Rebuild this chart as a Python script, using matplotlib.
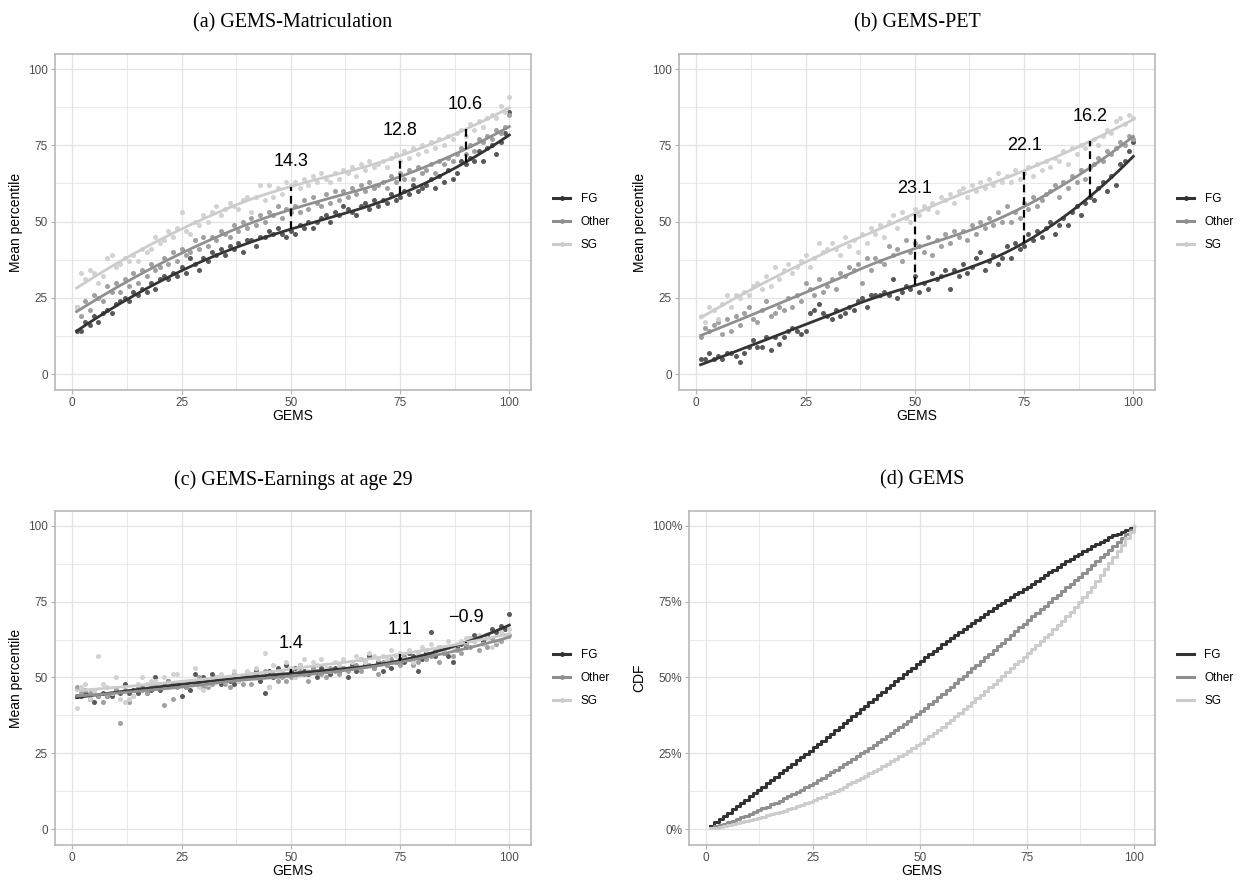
import matplotlib
matplotlib.use("Agg")
import matplotlib.pyplot as plt
from matplotlib.lines import Line2D
from matplotlib.ticker import MultipleLocator, PercentFormatter
import numpy as np

groups = ["FG", "Other", "SG"]
gems = np.arange(1, 101)

# (a) GEMS-Matriculation, mean percentile per GEMS percentile
fg_a = [14, 14, 17, 16, 19, 17, 20, 21, 20, 23,
        24, 25, 24, 27, 26, 28, 27, 30, 28, 31,
        32, 31, 33, 32, 35, 33, 38, 36, 34, 38,
        37, 40, 39, 41, 39, 42, 41, 43, 40, 44,
        44, 42, 45, 45, 47, 46, 48, 46, 45, 47,
        46, 49, 48, 50, 48, 50, 51, 52, 50, 53,
        52, 55, 54, 53, 52, 55, 56, 54, 57, 55,
        57, 56, 59, 57, 58, 60, 59, 62, 60, 61,
        62, 64, 61, 65, 63, 67, 64, 66, 70, 69,
        71, 70, 73, 70, 74, 75, 72, 76, 79, 86]
other_a = [22, 19, 24, 21, 26, 25, 24, 29, 27, 30,
           27, 31, 29, 33, 30, 34, 32, 36, 34, 35,
           38, 36, 40, 37, 41, 39, 40, 44, 41, 45,
           42, 45, 44, 47, 46, 45, 49, 47, 50, 48,
           51, 49, 52, 50, 53, 52, 55, 51, 54, 53,
           55, 53, 57, 54, 58, 56, 55, 59, 56, 60,
           57, 60, 58, 61, 59, 62, 60, 63, 61, 62,
           63, 61, 65, 63, 66, 64, 67, 64, 68, 66,
           67, 69, 66, 70, 69, 71, 70, 72, 74, 72,
           75, 73, 77, 76, 78, 77, 80, 79, 81, 85]
sg_a = [22, 33, 31, 34, 33, 30, 32, 38, 39, 35,
        36, 38, 37, 39, 37, 41, 40, 41, 45, 43,
        44, 47, 45, 48, 53, 47, 46, 50, 49, 52,
        50, 53, 55, 52, 54, 56, 55, 54, 57, 58,
        53, 58, 62, 57, 62, 58, 61, 59, 63, 62,
        63, 61, 64, 62, 65, 63, 66, 64, 63, 66,
        64, 67, 66, 68, 65, 69, 67, 70, 68, 69,
        70, 68, 71, 72, 70, 73, 71, 74, 72, 75,
        73, 76, 74, 77, 75, 78, 77, 79, 80, 78,
        82, 80, 83, 81, 84, 85, 84, 88, 86, 91]

# (b) GEMS-PET
fg_b = [5, 5, 7, 5, 6, 5, 7, 7, 6, 4,
        7, 9, 11, 9, 9, 12, 8, 12, 10, 12,
        14, 15, 14, 13, 14, 20, 21, 23, 20, 19,
        18, 21, 19, 20, 22, 21, 24, 25, 22, 26,
        26, 26, 27, 26, 31, 25, 27, 29, 28, 32,
        27, 30, 28, 33, 31, 32, 34, 28, 34, 32,
        36, 33, 35, 38, 40, 34, 37, 39, 36, 38,
        42, 38, 43, 41, 42, 46, 44, 47, 45, 48,
        50, 46, 49, 51, 49, 53, 55, 52, 56, 58,
        57, 61, 63, 60, 65, 62, 69, 70, 73, 76]
other_b = [12, 15, 14, 16, 17, 13, 18, 14, 19, 16,
           20, 22, 18, 17, 21, 24, 19, 20, 22, 21,
           25, 22, 26, 24, 30, 28, 26, 31, 27, 29,
           31, 28, 33, 32, 35, 34, 36, 30, 38, 34,
           38, 37, 36, 42, 39, 41, 37, 44, 40, 43,
           42, 40, 45, 39, 44, 42, 46, 43, 47, 45,
           47, 44, 49, 46, 50, 48, 51, 49, 53, 50,
           55, 50, 53, 51, 56, 54, 58, 55, 57, 59,
           60, 62, 58, 63, 61, 65, 63, 67, 64, 68,
           69, 71, 70, 73, 72, 74, 76, 75, 78, 77]
sg_b = [19, 17, 22, 21, 18, 23, 26, 22, 26, 25,
        27, 26, 29, 30, 28, 32, 29, 35, 31, 34,
        36, 33, 35, 37, 39, 35, 38, 43, 40, 41,
        43, 41, 39, 45, 42, 44, 40, 46, 43, 48,
        46, 49, 45, 50, 52, 48, 53, 51, 50, 54,
        52, 55, 54, 56, 53, 58, 57, 59, 56, 60,
        61, 58, 62, 60, 63, 61, 64, 62, 66, 63,
        65, 63, 67, 64, 66, 68, 65, 69, 67, 70,
        68, 71, 70, 73, 69, 74, 72, 75, 74, 76,
        77, 75, 78, 80, 79, 83, 84, 82, 85, 84]

# (c) GEMS-Earnings at age 29
fg_c = [44, 44, 45, 43, 42, 44, 45, 44, 44, 46,
        45, 48, 45, 46, 45, 47, 45, 46, 50, 46,
        48, 49, 48, 48, 44, 47, 46, 51, 48, 50,
        49, 51, 50, 48, 49, 49, 48, 49, 50, 51,
        50, 52, 49, 45, 52, 50, 53, 51, 54, 52,
        53, 54, 52, 51, 53, 50, 53, 52, 51, 53,
        52, 53, 50, 54, 52, 56, 54, 57, 53, 55,
        52, 54, 53, 55, 56, 55, 58, 57, 52, 56,
        58, 65, 57, 60, 58, 57, 55, 60, 61, 60,
        63, 64, 63, 62, 64, 66, 65, 67, 66, 71]
other_c = [47, 45, 46, 45, 46, 44, 42, 44, 45, 46,
           35, 46, 42, 44, 47, 46, 45, 47, 48, 47,
           41, 49, 43, 47, 48, 47, 49, 48, 50, 47,
           47, 48, 49, 50, 48, 47, 51, 49, 48, 50,
           48, 51, 50, 52, 47, 51, 49, 50, 49, 50,
           50, 52, 51, 49, 53, 52, 51, 50, 53, 52,
           51, 53, 52, 53, 54, 52, 55, 54, 53, 51,
           55, 54, 56, 55, 54, 57, 56, 54, 55, 57,
           56, 57, 59, 55, 58, 60, 57, 59, 58, 61,
           60, 62, 59, 61, 60, 63, 61, 62, 64, 64]
sg_c = [40, 47, 48, 43, 46, 57, 48, 47, 45, 50,
        43, 42, 43, 44, 48, 50, 48, 49, 49, 48,
        50, 47, 51, 51, 48, 48, 49, 53, 47, 46,
        48, 49, 50, 51, 49, 50, 52, 49, 50, 52,
        51, 53, 50, 58, 47, 54, 51, 52, 55, 53,
        50, 54, 56, 52, 55, 54, 56, 53, 52, 55,
        54, 56, 53, 55, 57, 56, 55, 58, 57, 56,
        57, 56, 59, 57, 58, 56, 59, 55, 58, 60,
        59, 61, 58, 60, 59, 62, 60, 61, 62, 63,
        63, 62, 64, 61, 63, 60, 62, 65, 64, 66]

# (d) CDF of GEMS by group (%)
cdf_fg = [1.1, 2.2, 3.2, 4.3, 5.4, 6.5, 7.6, 8.6, 9.7, 10.8,
          11.9, 13.0, 14.0, 15.1, 16.2, 17.3, 18.4, 19.4, 20.5, 21.6,
          22.7, 23.8, 24.8, 25.9, 27.0, 28.1, 29.2, 30.4, 31.5, 32.6,
          33.7, 34.9, 36.0, 37.2, 38.3, 39.5, 40.6, 41.8, 42.9, 44.1,
          45.2, 46.4, 47.5, 48.7, 49.8, 51.0, 52.1, 53.2, 54.4, 55.5,
          56.6, 57.7, 58.7, 59.8, 60.9, 61.9, 63.0, 64.0, 65.0, 66.1,
          67.0, 68.0, 69.0, 70.0, 71.0, 71.9, 72.9, 73.8, 74.7, 75.6,
          76.5, 77.4, 78.2, 79.1, 80.0, 80.9, 81.9, 82.8, 83.7, 84.7,
          85.6, 86.5, 87.4, 88.3, 89.2, 90.0, 90.8, 91.6, 92.5, 93.3,
          94.0, 94.7, 95.5, 96.2, 96.9, 97.5, 98.1, 98.8, 99.4, 100.0]
cdf_other = [0.5, 0.9, 1.4, 1.8, 2.3, 2.8, 3.3, 3.9, 4.4, 4.9,
             5.6, 6.2, 6.8, 7.4, 8.1, 8.7, 9.4, 10.1, 10.8, 11.5,
             12.3, 13.0, 13.8, 14.5, 15.3, 16.1, 17.0, 17.8, 18.7, 19.5,
             20.4, 21.3, 22.2, 23.1, 24.0, 25.0, 25.9, 26.9, 27.8, 28.8,
             29.7, 30.7, 31.7, 32.7, 33.7, 34.8, 35.8, 36.9, 37.9, 39.0,
             40.1, 41.3, 42.4, 43.5, 44.7, 45.8, 47.0, 48.2, 49.4, 50.6,
             51.8, 53.0, 54.2, 55.4, 56.6, 57.8, 59.0, 60.3, 61.5, 62.8,
             64.0, 65.3, 66.5, 67.8, 69.0, 70.2, 71.3, 72.5, 73.7, 74.9,
             76.1, 77.3, 78.5, 79.7, 80.9, 82.1, 83.3, 84.5, 85.8, 87.0,
             88.3, 89.6, 90.8, 92.1, 93.4, 94.7, 96.0, 97.4, 98.7, 100.0]
cdf_sg = [0.3, 0.5, 0.8, 1.1, 1.4, 1.7, 2.0, 2.3, 2.6, 3.0,
          3.3, 3.7, 4.1, 4.5, 4.9, 5.3, 5.7, 6.1, 6.6, 7.0,
          7.5, 8.0, 8.5, 9.0, 9.5, 10.1, 10.7, 11.4, 12.0, 12.6,
          13.3, 14.0, 14.7, 15.4, 16.1, 16.9, 17.6, 18.4, 19.1, 19.9,
          20.7, 21.5, 22.4, 23.2, 24.0, 24.9, 25.8, 26.7, 27.6, 28.5,
          29.6, 30.6, 31.7, 32.7, 33.8, 34.9, 36.1, 37.2, 38.4, 39.5,
          40.7, 41.9, 43.1, 44.3, 45.5, 46.8, 48.0, 49.3, 50.5, 51.8,
          53.0, 54.3, 55.6, 56.9, 58.2, 59.5, 60.7, 62.0, 63.2, 64.5,
          65.9, 67.4, 68.8, 70.3, 71.7, 73.4, 75.0, 76.7, 78.3, 80.0,
          81.9, 83.9, 85.8, 87.8, 89.7, 91.8, 93.8, 95.9, 97.9, 100.0]

gap_x = [50, 75, 90]
gap_labels_a = ["14.3", "12.8", "10.6"]
gap_labels_b = ["23.1", "22.1", "16.2"]
gap_labels_c = ["1.4", "1.1", "\u22120.9"]

line_cols = {"FG": "#333333", "Other": "#8f8f8f", "SG": "#cccccc"}
pt_cols = {"FG": "#595959", "Other": "#a0a0a0", "SG": "#d2d2d2"}

TICK_C = "#4d4d4d"
GRID_C = "#e3e3e3"
BORDER_C = "#b3b3b3"


def loess(x, y, grid, span=0.75):
    # local quadratic fit with tricube weights, like geom_smooth's default
    x = np.asarray(x, float)
    y = np.asarray(y, float)
    k = int(np.ceil(span * len(x)))
    out = []
    for g in grid:
        d = np.abs(x - g)
        h = np.sort(d)[k - 1]
        w = np.clip(1 - (d / h) ** 3, 0, None) ** 3
        c = np.polyfit(x, y, 2, w=np.sqrt(w))
        out.append(np.polyval(c, g))
    return np.array(out)


def style(ax, ylab, pct=False):
    ax.set_xlim(-3.95, 104.95)
    ax.set_ylim(-5.25, 104.95)
    ax.xaxis.set_major_locator(MultipleLocator(25))
    ax.yaxis.set_major_locator(MultipleLocator(25))
    ax.xaxis.set_minor_locator(MultipleLocator(12.5))
    ax.yaxis.set_minor_locator(MultipleLocator(12.5))
    ax.grid(which="major", color=GRID_C, lw=0.9)
    ax.grid(which="minor", color=GRID_C, lw=0.55)
    ax.set_axisbelow(True)
    for s in ax.spines.values():
        s.set_color(BORDER_C)
        s.set_linewidth(1.1)
    ax.tick_params(which="major", colors=BORDER_C, length=3, width=0.8,
                   labelcolor=TICK_C, labelsize=8.5, pad=2)
    ax.tick_params(which="minor", length=0)
    if pct:
        ax.yaxis.set_major_formatter(PercentFormatter(100, decimals=0))
    ax.set_xlabel("GEMS", fontsize=10, labelpad=0)
    ax.set_ylabel(ylab, fontsize=10, labelpad=4)


def legend(ax, marker):
    hs = [Line2D([0], [0], color=line_cols[g], lw=2.2, marker=marker, ms=3.5,
                 markerfacecolor=line_cols[g], markeredgewidth=0) for g in groups]
    ax.legend(hs, groups, loc="center left", bbox_to_anchor=(1.025, 0.5),
              frameon=False, fontsize=8.5, handlelength=1.4, handletextpad=0.9,
              labelspacing=0.95)


def scatter_panel(ax, series, labels):
    grid = np.linspace(1, 100, 120)
    fits = {}
    for g, vals in zip(groups, series):
        ax.scatter(gems, vals, s=13, color=pt_cols[g], linewidths=0, zorder=2)
    for g, vals in zip(groups, series):
        fits[g] = loess(gems, vals, grid)
        ax.plot(grid, fits[g], color=line_cols[g], lw=2.0, zorder=3)
    for gx, lab in zip(gap_x, labels):
        lo = np.interp(gx, grid, fits["FG"])
        hi = np.interp(gx, grid, fits["SG"])
        ax.plot([gx, gx], [lo, hi], color="black", lw=1.6, ls=(0, (3.5, 2.2)),
                zorder=4)
        ax.text(gx, max(lo, hi) + 5.5, lab, ha="center", va="bottom",
                fontsize=13, family="Liberation Sans")
    style(ax, "Mean percentile")
    legend(ax, "o")


plt.rcParams["font.family"] = ["Liberation Sans", "DejaVu Sans"]
fig = plt.figure(figsize=(12.47, 8.82), dpi=100)

ax_a = fig.add_axes([0.0441, 0.5578, 0.3817, 0.381])
ax_b = fig.add_axes([0.5445, 0.5578, 0.3817, 0.381])
ax_c = fig.add_axes([0.0441, 0.0420, 0.3817, 0.3787])
ax_d = fig.add_axes([0.5525, 0.0420, 0.3737, 0.3787])

scatter_panel(ax_a, [fg_a, other_a, sg_a], gap_labels_a)
scatter_panel(ax_b, [fg_b, other_b, sg_b], gap_labels_b)
scatter_panel(ax_c, [fg_c, other_c, sg_c], gap_labels_c)

for g, vals in zip(groups, [cdf_fg, cdf_other, cdf_sg]):
    ax_d.step(gems, vals, where="post", color=line_cols[g], lw=2.2)
style(ax_d, "CDF", pct=True)
legend(ax_d, None)

titles = ["(a) GEMS-Matriculation", "(b) GEMS-PET",
          "(c) GEMS-Earnings at age 29", "(d) GEMS"]
for ax, t in zip([ax_a, ax_b, ax_c, ax_d], titles):
    pos = ax.get_position()
    fig.text((pos.x0 + pos.x1) / 2, pos.y1 + 0.024, t, ha="center", va="bottom",
             fontsize=14.5, family="Liberation Serif")

fig.savefig("out.png", dpi=100)
